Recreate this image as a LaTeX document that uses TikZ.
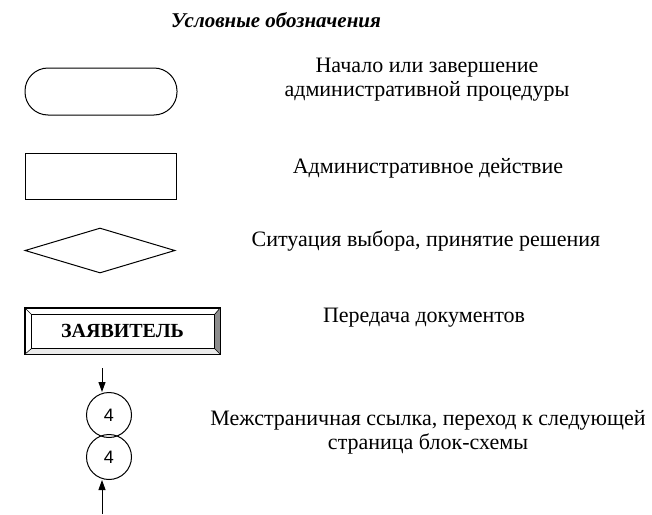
\documentclass[tikz,border=0pt]{standalone}
\usepackage{fontspec}
\setmainfont{Liberation Serif}
\newfontfamily\arialf{Liberation Sans}
\usetikzlibrary{arrows.meta,shapes.geometric,calc}
\begin{document}
\begin{tikzpicture}[x=1pt,y=-1pt,
  shp/.style={draw, line width=1pt, inner sep=0pt},
  lbl/.style={font=\fontsize{22}{24}\selectfont, align=center, inner sep=0pt},
  ref/.style={circle, draw, line width=1pt, minimum size=45pt, inner sep=0pt, font=\arialf\fontsize{18}{20}\selectfont},
  arr/.style={line width=1pt, -{Triangle[length=10pt,width=7pt]}}]
\useasboundingbox (0,0) rectangle (652,514);
% title
\node[font=\bfseries\itshape\fontsize{21}{24}\selectfont, inner sep=0pt] (title) at (276,20) {Условные обозначения};
% terminal
\node[shp, rounded corners=23pt, minimum width=152pt, minimum height=47pt] (term) at (101,91.5) {};
\node[lbl] (t1) at (427,80) {Начало или завершение\\административной процедуры};
% process
\node[shp, rectangle, minimum width=151pt, minimum height=46pt] (proc) at (100.5,176) {};
\node[lbl] (t2) at (428,168) {Административное действие};
% decision
\node[shp, diamond, minimum width=150pt, minimum height=45pt] (dec) at (100,250.5) {};
\node[lbl] (t3) at (426,241) {Ситуация выбора, принятие решения};
% document transfer box
\node[shp, rectangle, minimum width=195pt, minimum height=46pt] (zv) at (122.5,331) {};
\coordinate (inw) at ([shift={(7,7)}]zv.north west);
\coordinate (ine) at ([shift={(-6,7)}]zv.north east);
\coordinate (ise) at ([shift={(-6,-6)}]zv.south east);
\coordinate (isw) at ([shift={(7,-6)}]zv.south west);
\fill[black!45] (zv.north east) -- (zv.south east) -- (ise) -- (ine) -- cycle;
\fill[black!8] (zv.south west) -- (zv.south east) -- (ise) -- (isw) -- cycle;
\draw[line width=0.8pt] (inw) rectangle (ise);
\draw[line width=0.6pt] (zv.north west) -- (inw) (zv.north east) -- (ine) (zv.south east) -- (ise) (zv.south west) -- (isw);
\draw[line width=1pt] (zv.north west) rectangle (zv.south east);
\node[font=\bfseries\fontsize{20}{22}\selectfont, inner sep=0pt] (zt) at (zv.center) {ЗАЯВИТЕЛЬ};
\node[lbl] (t4) at (424,318) {Передача документов};
% page connectors
\node[ref] (c1) at (109,415) {4};
\node[ref] (c2) at (109,457) {4};
\coordinate (a1) at (102,368);
\coordinate (a2) at (102,514);
\draw[arr] (a1) -- (a1 |- c1.north);
\draw[arr] (a2) -- (a2 |- c2.south);
\node[lbl] (t5) at (428,432) {Межстраничная ссылка, переход к следующей\\страница блок-схемы};
\end{tikzpicture}
\end{document}
